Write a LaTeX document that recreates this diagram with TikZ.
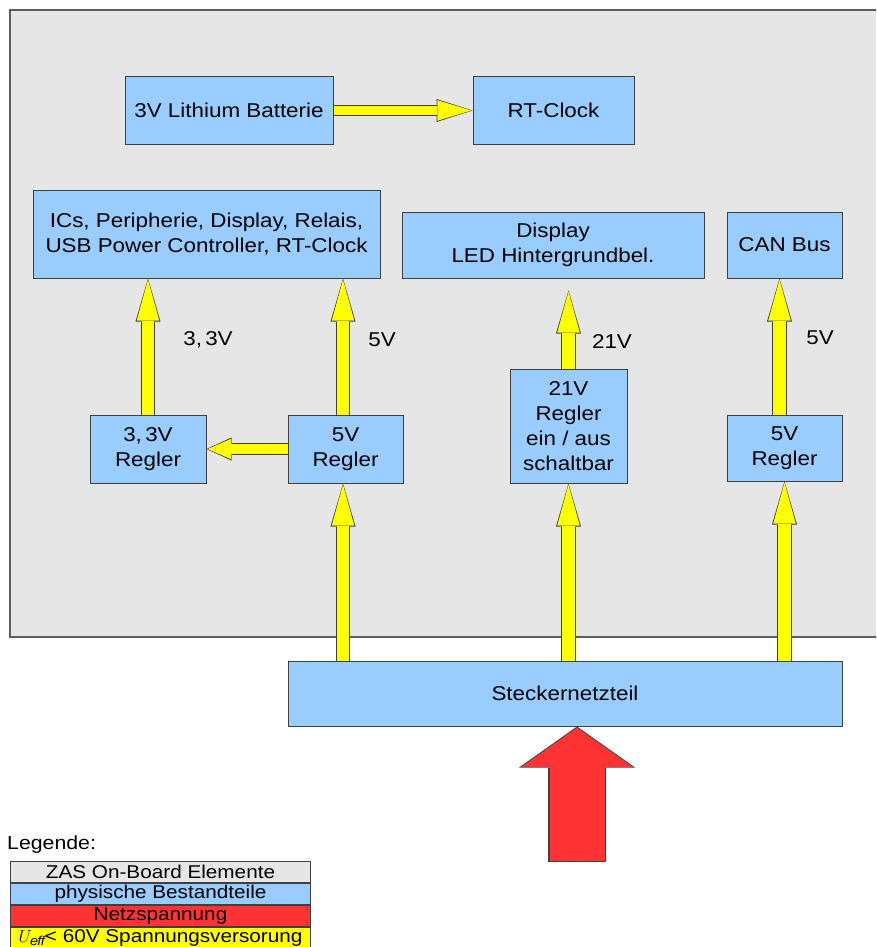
\documentclass[tikz,border=0pt]{standalone}
\usepackage{fontspec}
\setmainfont{Liberation Sans}[FakeStretch=1.12]
\usetikzlibrary{arrows.meta,positioning,calc}
\definecolor{boardcol}{RGB}{230,230,230}
\definecolor{partcol}{RGB}{153,204,255}
\definecolor{mainscol}{RGB}{255,51,51}
\definecolor{voltcol}{RGB}{255,255,0}
\definecolor{edgecol}{RGB}{64,64,64}

\begin{document}
\begin{tikzpicture}[x=1pt, y=-1pt,
    part/.style={rectangle, draw=edgecol, fill=partcol, line width=1pt, align=center, inner sep=0pt, font=\fontsize{20}{25}\selectfont},
    voltlabel/.style={font=\fontsize{20}{25}\selectfont},
    legrow/.style={rectangle, draw=edgecol, line width=1pt, minimum width=300pt, minimum height=21pt, inner sep=0pt, font=\fontsize{18.5}{20}\selectfont},
    feed/.style={line width=12.5pt, draw=voltcol, -{Triangle[length=41pt, width=22.6pt, line width=0pt]}, shorten >=1.2pt,
        preaction={draw=edgecol, line width=14.5pt, -{Triangle[length=43pt, width=25pt, line width=0pt]}, shorten >=0pt}},
    feedh/.style={line width=9pt, draw=voltcol, -{Triangle[length=34pt, width=20.6pt, line width=0pt]}, shorten >=1.2pt,
        preaction={draw=edgecol, line width=11pt, -{Triangle[length=36pt, width=23pt, line width=0pt]}, shorten >=0pt}},
    feedside/.style={line width=10pt, draw=voltcol, -{Triangle[length=23.5pt, width=20.5pt, line width=0pt]}, shorten >=1.2pt,
        preaction={draw=edgecol, line width=12pt, -{Triangle[length=25pt, width=23pt, line width=0pt]}, shorten >=0pt}},
    mains/.style={line width=55pt, draw=mainscol, -{Triangle[length=39.5pt, width=112pt, line width=0pt]}, shorten >=1.2pt, shorten <=1.2pt,
        preaction={draw=edgecol, line width=57.5pt, -{Triangle[length=41pt, width=116pt, line width=0pt]}, shorten >=0pt, shorten <=0pt}},
]
\useasboundingbox (0,0) rectangle (876,947);
\clip (0,0) rectangle (876,947);

% board
\draw[draw=edgecol!85, fill=boardcol, line width=1.2pt] (10,10) rectangle (890,637);

% parts
\node[part, minimum width=208pt, minimum height=67pt] (batt) at (229,110.5) {3V Lithium Batterie};
\node[part, minimum width=161pt, minimum height=67pt] (rtc) at (553.5,110.5) {RT-Clock};
\node[part, minimum width=347pt, minimum height=88pt] (ics) at (206.5,234) {ICs, Peripherie, Display, Relais,\\USB Power Controller, RT-Clock};
\node[part, minimum width=302pt, minimum height=66pt] (display) at (553,245) {Display\\LED Hintergrundbel.};
\node[part, minimum width=115pt, minimum height=66pt] (can) at (784.5,245) {CAN Bus};
\node[part, minimum width=116pt, minimum height=68pt] (reg33) at (148,449) {3,\,3V\\Regler};
\node[part, minimum width=115pt, minimum height=68pt] (reg5) at (345.5,449) {5V\\Regler};
\node[part, minimum width=117pt, minimum height=114pt] (reg21) at (568.5,426) {21V\\Regler\\ein / aus\\schaltbar};
\node[part, minimum width=115pt, minimum height=66pt] (reg5b) at (784.5,448) {5V\\Regler};
\node[part, minimum width=554pt, minimum height=65pt] (stecker) at (565,693.5) {Steckernetzteil};

% voltages
\node[voltlabel] (l33) at (208,340) {3,\,3V};
\node[voltlabel] (l5) at (382,340) {5V};
\node[voltlabel] (l21) at (612,342) {21V};
\node[voltlabel] (l5b) at (820,338) {5V};

% supply arrows
\draw[feedh] (batt.east) -- (rtc.west);
\draw[feed] (reg33.north) -- (reg33.north |- ics.south);
\draw[feed] ($(reg5.north)+(-2.5,0)$) -- ($(reg5.north |- ics.south)+(-2.5,0)$);
\draw[feedside] (reg5.west) -- (reg33.east);
\draw[feed] (reg21.north) -- ($(reg21.north |- display.south)+(0,12)$);
\draw[feed] ($(reg5b.north)+(-5,0)$) -- ($(reg5b.north |- can.south)+(-5,0)$);
\draw[feed] ($(reg5.south |- stecker.north)+(-2.5,0)$) -- ($(reg5.south)+(-2.5,0)$);
\draw[feed] (reg21.south |- stecker.north) -- (reg21.south);
\draw[feed] (reg5b.south |- stecker.north) -- (reg5b.south);

\coordinate (plug) at (577,862);
\draw[mains] (plug) -- (plug |- stecker.south);

% legend
\node[anchor=west, font=\fontsize{19}{20}\selectfont, inner sep=0pt] (legtitle) at (7,845) {Legende:};
\node[legrow, fill=boardcol, anchor=north west] (legboard) at (10,861) {ZAS On-Board Elemente};
\node[legrow, fill=partcol, below=0pt of legboard] (legpart) {physische Bestandteile};
\node[legrow, fill=mainscol, below=0pt of legpart] (legmains) {Netzspannung};
\node[legrow, fill=voltcol, below=0pt of legmains] (legvolt) {$U_{\mathit{eff}}$< 60V Spannungsversorung};
\end{tikzpicture}
\end{document}
